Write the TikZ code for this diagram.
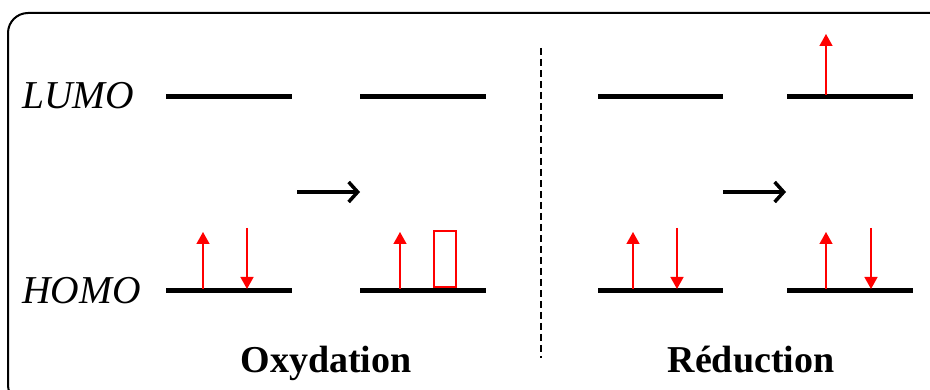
\documentclass[tikz,border=0pt]{standalone}
\usepackage{fontspec}
\setmainfont{Liberation Serif}
\usetikzlibrary{arrows.meta}
\begin{document}
\begin{tikzpicture}[x=1pt,y=-1pt,
  level/.style={line width=5pt},
  elec/.style={red,line width=1.4pt,-{Triangle[width=13pt,length=12pt]}},
  react/.style={line width=3.5pt,-{Straight Barb[length=9pt,width=20pt,line width=3.5pt]}},
  lab/.style={font=\fontsize{39.5}{40}\selectfont\itshape,inner sep=0pt},
  title/.style={font=\fontsize{38}{38}\selectfont\bfseries,inner sep=0pt,anchor=base}]
\useasboundingbox (0,0) rectangle (930,390);
\begin{scope}
\clip (0,0) rectangle (930,390);
\draw[line width=2pt,rounded corners=20pt] (8,13) rectangle (950,405);
\end{scope}
% labels
\node[lab,anchor=west] (lumo) at (22,96) {LUMO};
\node[lab,anchor=west] (homo) at (22,291) {HOMO};
% level coordinates
\foreach \n/\a/\b in {1/166/292,2/360/486,3/598/723,4/787/913}{
  \coordinate (L\n a) at (\a,97);
  \coordinate (L\n b) at (\b,97);
  \coordinate (H\n a) at (\a,291);
  \coordinate (H\n b) at (\b,291);
  \draw[level] (L\n a) -- (L\n b);
  \draw[level] (H\n a) -- (H\n b);
}
% electrons
\coordinate (e1u0) at (203,289); \coordinate (e1u1) at (203,232);
\coordinate (e1d0) at (247,228); \coordinate (e1d1) at (247,289);
\draw[elec] (e1u0) -- (e1u1);
\draw[elec] (e1d0) -- (e1d1);
\coordinate (e2u0) at (400,289); \coordinate (e2u1) at (400,232);
\draw[elec] (e2u0) -- (e2u1);
\draw[red,line width=2pt] (434,231) rectangle (456,287);
\coordinate (e3u0) at (633,289); \coordinate (e3u1) at (633,232);
\coordinate (e3d0) at (677,228); \coordinate (e3d1) at (677,289);
\draw[elec] (e3u0) -- (e3u1);
\draw[elec] (e3d0) -- (e3d1);
\coordinate (e4u0) at (826,289); \coordinate (e4u1) at (826,232);
\coordinate (e4d0) at (871,228); \coordinate (e4d1) at (871,289);
\draw[elec] (e4u0) -- (e4u1);
\draw[elec] (e4d0) -- (e4d1);
\coordinate (e5u0) at (826,95); \coordinate (e5u1) at (826,34);
\draw[elec] (e5u0) -- (e5u1);
% reaction arrows
\coordinate (r1a) at (297,192); \coordinate (r1b) at (360,192);
\coordinate (r2a) at (723,192); \coordinate (r2b) at (786,192);
\draw[react] (r1a) -- (r1b);
\draw[react] (r2a) -- (r2b);
% separator
\coordinate (s1) at (541,48); \coordinate (s2) at (541,358);
\draw[line width=1.8pt,dash pattern=on 7pt off 4pt] (s1) -- (s2);
% titles
\node[title] (ox) at (326,372) {Oxydation};
\node[title] (red) at (751,372) {Réduction};
\end{tikzpicture}
\end{document}
